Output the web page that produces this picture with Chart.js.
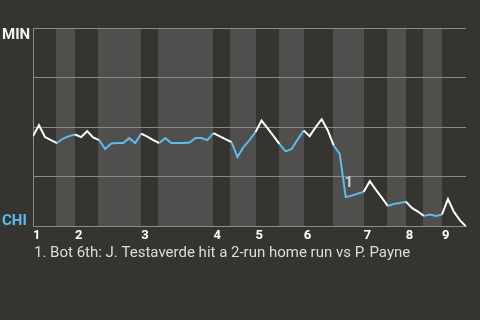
<!DOCTYPE html>
<html>
<head>
<meta charset="utf-8">
<script src="https://cdn.jsdelivr.net/npm/chart.js@4/dist/chart.umd.min.js"></script>
<style>
  html, body { margin: 0; padding: 0; background: #363431; }
  #wrap { width: 480px; height: 320px; }
</style>
</head>
<body>
<div id="wrap"><canvas id="c" width="480" height="320"></canvas></div>
<script>
// ---- data ----
const innings = ['1', '2', '3', '4', '5', '6', '7', '8', '9'];
const inningStartIndex = [0, 7, 18, 30, 37, 45, 55, 62, 68];
const bottomHalfStart = [4, 11, 21, 33, 41, 50, 59, 65];
const bottomHalfEnd = [7, 18, 30, 37, 45, 55, 62, 68];
// MIN win probability (%) after each plate appearance
const winProbMIN = [
  45.5, 51, 45, 43.5, 42, 44.3, 45.5, 46.3, 45, 48,
  44.8, 43.5, 39, 41.8, 42, 42, 44.5, 42, 46.8, 45.3,
  43.5, 42, 44.5, 42, 42, 42, 42.3, 44.5, 44.5, 43.5,
  47, 45.5, 44, 42.5, 35, 40, 43.5, 47.5, 53.3, 49.5,
  45.5, 41.5, 37.8, 39, 43.8, 48.3, 45.5, 50, 54, 48.5,
  40.8, 36.5, 14.8, 15.5, 16.5, 17.5, 22.8, 18.5, 14.5, 10.3,
  11.3, 11.8, 12.5, 9.3, 7.5, 5.3, 6, 5.3, 6, 13.8,
  7.3, 3, 0
];
const noteIndex = [52];
const noteLabels = ['1'];
const noteTexts = ['1. Bot 6th: J. Testaverde hit a 2-run home run vs P. Payne'];
const yTicks = [0, 25, 50, 75, 100];
const teamTop = 'MIN';
const teamBottom = 'CHI';

// ---- styles ----
const BG = '#363431';
const BAND = '#504f4d';
const GRID = '#8a8a88';
const WHITE = '#ffffff';
const BLUE = '#5bbcef';
const FONT = 'Roboto, "Open Sans", sans-serif';

function isBottomHalf(i) {
  for (let k = 0; k < bottomHalfStart.length; k++) {
    if (i >= bottomHalfStart[k] && i < bottomHalfEnd[k]) return true;
  }
  return false;
}

const bgPlugin = {
  id: 'bgBands',
  beforeDraw(chart) {
    const { ctx, chartArea: a, scales: { x } } = chart;
    ctx.save();
    ctx.fillStyle = BG;
    ctx.fillRect(0, 0, chart.width, chart.height);
    ctx.fillStyle = BAND;
    for (let k = 0; k < bottomHalfStart.length; k++) {
      const x0 = Math.round(x.getPixelForValue(bottomHalfStart[k])) - 1;
      const x1 = Math.round(x.getPixelForValue(bottomHalfEnd[k]));
      ctx.fillRect(x0, a.top, x1 - x0, a.bottom - a.top);
    }
    ctx.restore();
  }
};

const textPlugin = {
  id: 'texts',
  afterDraw(chart) {
    const { ctx, chartArea: a, scales: { x, y } } = chart;
    ctx.save();
    ctx.font = 'bold 15px ' + FONT;
    ctx.textAlign = 'left';
    ctx.textBaseline = 'alphabetic';
    ctx.fillStyle = '#f2f2f2';
    ctx.fillText(teamTop, 2, a.top + 11);
    ctx.fillStyle = BLUE;
    ctx.fillText(teamBottom, 2, 225);
    // note markers
    ctx.fillStyle = '#d0d0d0';
    ctx.font = 'bold 15px ' + FONT;
    ctx.textAlign = 'center';
    noteIndex.forEach((idx, k) => {
      const px = x.getPixelForValue(idx) + 3;
      const py = y.getPixelForValue(winProbMIN[idx]) - 10;
      ctx.fillText(noteLabels[k], px, py);
    });
    // footnotes
    ctx.font = '15px ' + FONT;
    ctx.textAlign = 'left';
    ctx.fillStyle = '#dcdcdc';
    noteTexts.forEach((t, k) => {
      ctx.fillText(t, a.left + 1, 257 + k * 17);
    });
    ctx.restore();
  }
};

new Chart(document.getElementById('c'), {
  type: 'line',
  data: {
    datasets: [{
      data: winProbMIN.map((v, i) => ({ x: i, y: v })),
      borderColor: WHITE,
      borderWidth: 2,
      pointRadius: 0,
      tension: 0,
      fill: false,
      segment: {
        borderColor: ctx => isBottomHalf(ctx.p0DataIndex) ? BLUE : WHITE
      }
    }]
  },
  options: {
    responsive: false,
    animation: false,
    events: [],
    layout: { padding: { left: 33, right: 14, top: 28, bottom: 74 } },
    plugins: { legend: { display: false }, tooltip: { enabled: false } },
    scales: {
      x: {
        type: 'linear',
        min: 0,
        max: winProbMIN.length - 1,
        afterBuildTicks: axis => { axis.ticks = inningStartIndex.map(v => ({ value: v })); },
        ticks: {
          autoSkip: false,
          maxRotation: 0,
          align: 'start',
          padding: 2,
          color: WHITE,
          font: { family: FONT, size: 13, weight: 'bold' },
          callback: v => innings[inningStartIndex.indexOf(v)]
        },
        grid: { display: false, drawTicks: false, tickLength: 0 },
        border: { display: true, color: GRID, width: 1 }
      },
      y: {
        min: 0,
        max: 100,
        afterBuildTicks: axis => { axis.ticks = yTicks.map(v => ({ value: v })); },
        ticks: { display: false },
        grid: { color: GRID, drawTicks: false, tickLength: 0 },
        border: { display: true, color: GRID, width: 1 }
      }
    }
  },
  plugins: [bgPlugin, textPlugin]
});
</script>
</body>
</html>
